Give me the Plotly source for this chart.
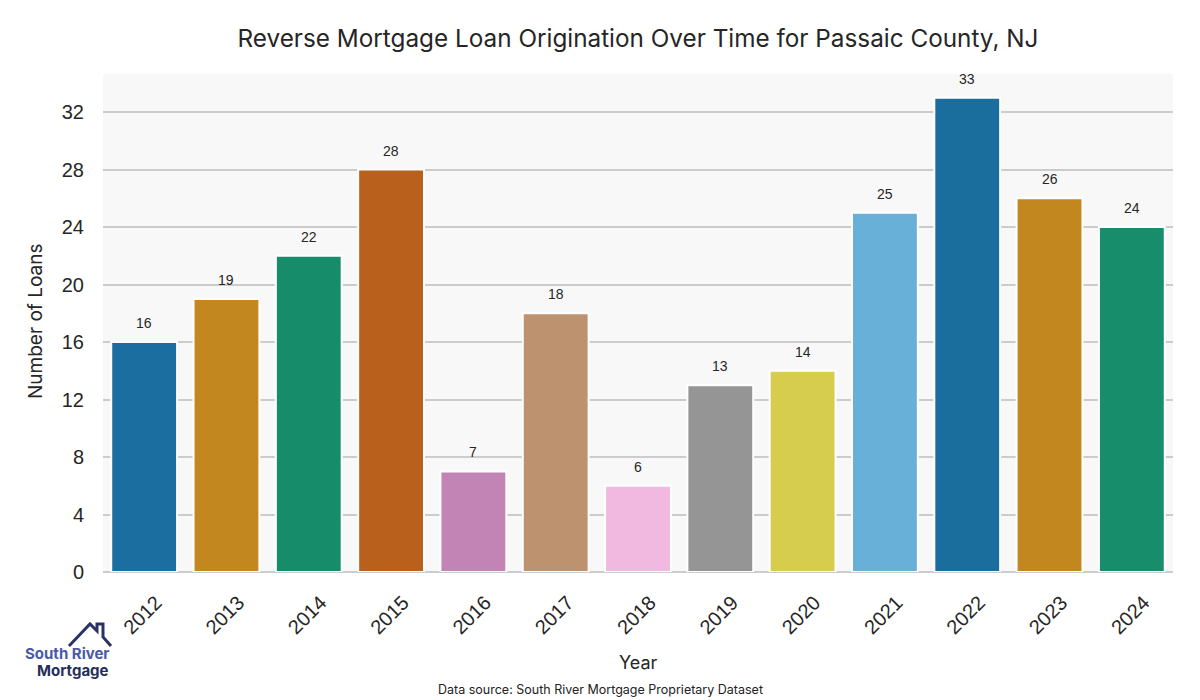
import plotly.graph_objects as go

years = ["2012", "2013", "2014", "2015", "2016", "2017", "2018", "2019", "2020", "2021", "2022", "2023", "2024"]
loans = [16, 19, 22, 28, 7, 18, 6, 13, 14, 25, 33, 26, 24]
colors = ["#1a6fa0", "#c3871f", "#168c6a", "#b9611c", "#c283b5", "#bd936f",
          "#f1b8e0", "#959595", "#d6cc4e", "#69b0d8", "#1a6e9e", "#c3871f", "#178d6b"]
y_ticks = [0, 4, 8, 12, 16, 20, 24, 28, 32]

title_text = "Reverse Mortgage Loan Origination Over Time for Passaic County, NJ"
source_text = "Data source: South River Mortgage Proprietary Dataset"
x_title = "Year"
y_title = "Number of Loans"

fig = go.Figure()
fig.add_trace(go.Bar(
    x=years, y=loans,
    marker=dict(color=colors, line=dict(color="white", width=2)),
    hoverinfo="x+y",
))

# value labels, positioned by category index on the category axis
for i, v in enumerate(loans):
    fig.add_annotation(x=i, y=v, xref="x", yref="y", text=str(v), showarrow=False,
                       yanchor="bottom", yshift=9,
                       font=dict(family="Liberation Sans, Arial", size=14, color="#262626"))

# Plot area in pixels: left 103, right 1173, top 74, bottom 572
L, R, T, B = 103, 1173, 74, 572
def px(x):
    return (x - L) / (R - L)
def py(y):
    return (B - y) / (B - T)

house = [(69, 646), (90, 624), (97, 631), (97, 624), (103, 624), (103, 637), (111, 646)]
path = "M " + " L ".join(f"{px(x):.5f},{py(y):.5f}" for x, y in house)
fig.add_shape(type="path", xref="paper", yref="paper", path=path,
              line=dict(color="#2b3366", width=3))

fig.add_annotation(xref="paper", yref="paper", x=px(67), y=py(653), text="<b>South River</b>",
                   showarrow=False, xanchor="center", yanchor="middle",
                   font=dict(family="Inter, Lato, sans-serif", size=15, color="#4a5aa8"))
fig.add_annotation(xref="paper", yref="paper", x=px(73), y=py(670), text="<b>Mortgage</b>",
                   showarrow=False, xanchor="center", yanchor="middle",
                   font=dict(family="Inter, Lato, sans-serif", size=15, color="#252f5c"))

fig.add_annotation(xref="paper", yref="paper", x=px(600), y=py(689), text=source_text,
                   showarrow=False, xanchor="center", yanchor="middle",
                   font=dict(family="Inter, Lato, sans-serif", size=12.5, color="#222222"))

fig.add_annotation(xref="paper", yref="paper", x=px(638), y=py(662), text=x_title,
                   showarrow=False, xanchor="center", yanchor="middle",
                   font=dict(family="Inter, Lato, sans-serif", size=18, color="#262626"))
fig.add_annotation(xref="paper", yref="paper", x=px(35), y=py(322), text=y_title,
                   showarrow=False, xanchor="center", yanchor="middle", textangle=-90,
                   font=dict(family="Inter, Lato, sans-serif", size=19, color="#262626"))

fig.update_layout(
    width=1200, height=700,
    margin=dict(l=L, r=1200 - R, t=T, b=700 - B, autoexpand=False),
    paper_bgcolor="white",
    plot_bgcolor="#f8f8f8",
    showlegend=False,
    bargap=0.2,
    title=dict(text=title_text, x=px(638), xanchor="center", y=1 - 38 / 700, yanchor="middle",
               xref="paper",
               font=dict(family="Inter, Lato, sans-serif", size=24.3, color="#262626")),
    xaxis=dict(
        type="category",
        categoryorder="array", categoryarray=years,
        range=[-0.5, len(years) - 0.5],
        automargin=False,
        tickangle=-45,
        ticklabelstandoff=14, ticklabelshift=12,
        tickfont=dict(family="Liberation Sans, Arial", size=20, color="#262626"),
        showgrid=False, showline=False, ticks="",
    ),
    yaxis=dict(
        automargin=False,
        range=[0, 34.65],
        tickvals=y_ticks,
        tickfont=dict(family="Liberation Sans, Arial", size=20, color="#262626"),
        showgrid=True, gridcolor="#cccccc", gridwidth=1.5,
        zeroline=True, zerolinecolor="#cccccc", zerolinewidth=1.5,
        ticks="outside", ticklen=14, tickcolor="rgba(0,0,0,0)",
        showline=False,
    ),
)

fig.write_html("out.html", config={"displayModeBar": False},
               post_script="document.body.style.margin='0px';")
